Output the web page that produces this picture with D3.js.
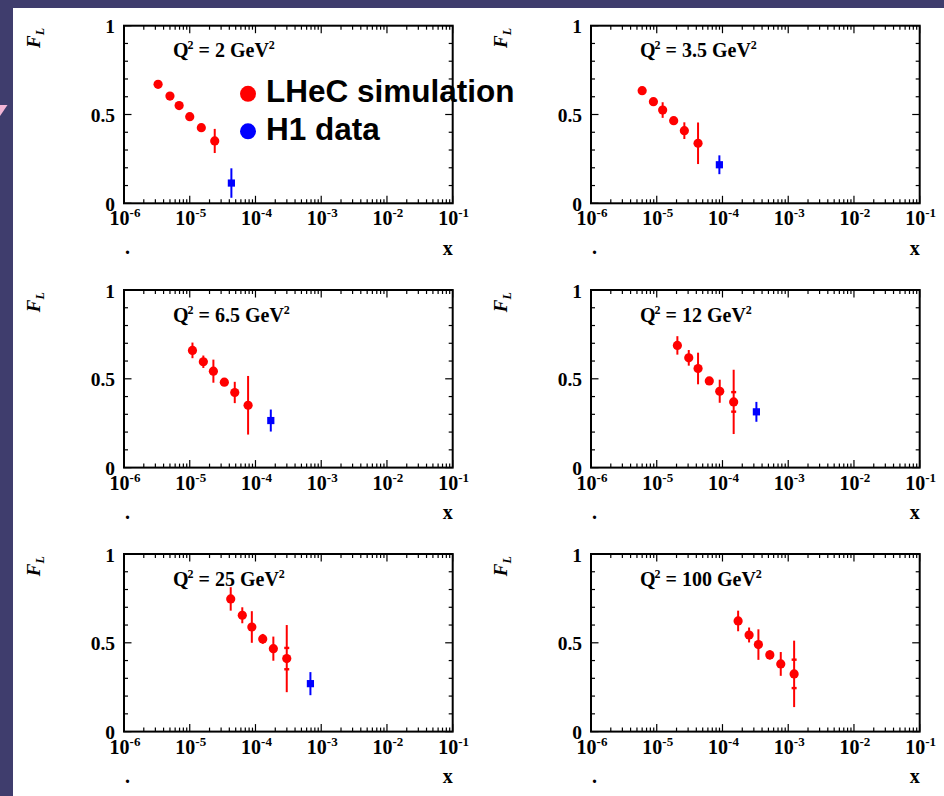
<!DOCTYPE html>
<html>
<head>
<meta charset="utf-8">
<script src="https://cdn.jsdelivr.net/npm/d3@7"></script>
<style>
  html, body { margin: 0; padding: 0; background: #3f3d6d; }
  svg { display: block; }
</style>
</head>
<body>
<svg id="chart" width="944" height="796"></svg>
<script>
// F_L(x) at fixed Q^2: simulated LHeC measurement vs. H1 data
const q2Values = ["2", "3.5", "6.5", "12", "25", "100"];

const simX = [
  [3.3e-6, 5.0e-6, 6.9e-6, 1.0e-5, 1.5e-5, 2.4e-5],
  [6.0e-6, 8.9e-6, 1.23e-5, 1.81e-5, 2.63e-5, 4.25e-5],
  [1.1e-5, 1.61e-5, 2.29e-5, 3.36e-5, 4.84e-5, 7.72e-5],
  [2.06e-5, 3.07e-5, 4.25e-5, 6.3e-5, 9.08e-5, 1.48e-4],
  [4.2e-5, 6.3e-5, 8.8e-5, 1.29e-4, 1.87e-4, 2.99e-4],
  [1.73e-4, 2.54e-4, 3.52e-4, 5.25e-4, 7.7e-4, 1.23e-3]
];
const simFL = [
  [0.670, 0.604, 0.550, 0.488, 0.426, 0.351],
  [0.634, 0.572, 0.525, 0.465, 0.409, 0.338],
  [0.660, 0.596, 0.543, 0.481, 0.423, 0.351],
  [0.688, 0.618, 0.558, 0.488, 0.430, 0.370],
  [0.747, 0.655, 0.589, 0.522, 0.467, 0.411],
  [0.623, 0.544, 0.490, 0.432, 0.381, 0.325]
];
// total uncertainty
const simErr = [
  [0.010, 0.010, 0.010, 0.012, 0.015, 0.068],
  [0.012, 0.015, 0.044, 0.015, 0.047, 0.117],
  [0.044, 0.035, 0.065, 0.015, 0.060, 0.165],
  [0.052, 0.044, 0.089, 0.020, 0.065, 0.181],
  [0.066, 0.045, 0.089, 0.028, 0.068, 0.189],
  [0.058, 0.042, 0.086, 0.026, 0.067, 0.187]
];
// inner (statistical) uncertainty, marked where it extends past the marker
const simStatErr = [
  [null, null, null, null, null, null],
  [null, null, null, null, null, null],
  [null, null, null, null, null, null],
  [null, null, null, null, null, 0.055],
  [null, null, null, null, null, 0.060],
  [null, null, null, null, null, 0.080]
];

const h1X   = [4.3e-5, 8.97e-5, 1.71e-4, 3.28e-4, 6.85e-4, null];
const h1FL  = [0.114, 0.217, 0.265, 0.314, 0.270, null];
const h1Err = [0.083, 0.053, 0.062, 0.056, 0.065, null];

const xTickExponents = [-6, -5, -4, -3, -2, -1];
const yTickValues = [0, 0.5, 1];
const yTickLabels = ["0", "0.5", "1"];
const legendLabels = ["LHeC simulation", "H1 data"];

const svg = d3.select("#chart");

// slide background
svg.append("rect").attr("x", 13).attr("y", 8).attr("width", 931).attr("height", 788).attr("fill", "#ffffff");
svg.append("path").attr("d", "M0,105 L7.5,105 L0,116 Z").attr("fill", "#f3b6d6");

const W = 328.7, H = 177.6;
const colLeft = [124, 591];
const rowTop = [25.7, 290, 554];
const serif = "'Liberation Serif', 'Times New Roman', serif";
const RED = "#ff0000", BLUE = "#0000ff";

const x = d3.scaleLog().domain([1e-6, 1e-1]).range([0, W]);
const y = d3.scaleLinear().domain([0, 1]).range([H, 0]);

q2Values.forEach((q2, i) => {
  const left = colLeft[i % 2], top = rowTop[Math.floor(i / 2)];
  const g = svg.append("g").attr("transform", `translate(${left},${top})`);

  // ticks: log minor/major on top & bottom, linear on left & right
  const tk = g.append("g").attr("stroke", "#000").attr("stroke-width", 1.2);
  for (let e = -6; e < -1 + 1e-9; e++) {
    for (let k = 1; k <= 9; k++) {
      const v = k * Math.pow(10, e);
      if (v > 1e-1 * 1.0001) continue;
      const len = k === 1 ? 7.5 : 4;
      const px = x(v);
      tk.append("line").attr("x1", px).attr("x2", px).attr("y1", H).attr("y2", H - len);
      tk.append("line").attr("x1", px).attr("x2", px).attr("y1", 0).attr("y2", len);
    }
  }
  d3.range(0, 11).forEach(j => {
    const v = j / 10;
    const len = (j % 5 === 0) ? 7.5 : 4;
    const py = y(v);
    tk.append("line").attr("x1", 0).attr("x2", len).attr("y1", py).attr("y2", py);
    tk.append("line").attr("x1", W).attr("x2", W - len).attr("y1", py).attr("y2", py);
  });

  // frame
  g.append("rect").attr("x", 0).attr("y", 0).attr("width", W).attr("height", H)
    .attr("fill", "none").attr("stroke", "#000").attr("stroke-width", 2);

  // y tick labels
  yTickValues.forEach((v, j) => {
    g.append("text").attr("x", -9).attr("y", y(v) + 7.5)
      .attr("text-anchor", "end").attr("font-family", serif).attr("font-weight", "bold")
      .attr("font-size", 19.5).text(yTickLabels[j]);
  });

  // x tick labels 10^n
  xTickExponents.forEach(e => {
    const t = g.append("text").attr("x", x(Math.pow(10, e)) + 1).attr("y", H + 22)
      .attr("text-anchor", "middle").attr("font-family", serif).attr("font-weight", "bold")
      .attr("font-size", 20);
    t.append("tspan").text("10");
    t.append("tspan").attr("font-size", 13).attr("dy", -8).text(String(e));
  });

  // axis titles
  const fl = g.append("text").attr("transform", `translate(-84,22.3) rotate(-90)`)
    .attr("font-family", serif).attr("font-weight", "bold").attr("font-style", "italic")
    .attr("font-size", 19);
  fl.append("tspan").text("F");
  fl.append("tspan").attr("font-size", 12).attr("dy", 4).text("L");

  g.append("text").attr("x", W).attr("y", H + 51.5).attr("text-anchor", "end")
    .attr("font-family", serif).attr("font-weight", "bold").attr("font-size", 20).text("x");
  g.append("text").attr("x", 1).attr("y", H + 51).attr("font-family", serif)
    .attr("font-weight", "bold").attr("font-size", 20).text(".");

  // Q^2 label
  const ql = g.append("text").attr("x", 49).attr("y", 31.5).attr("font-family", serif)
    .attr("font-weight", "bold").attr("font-size", 20);
  ql.append("tspan").text("Q");
  ql.append("tspan").attr("font-size", 12).attr("dy", -8).attr("dx", -1).text("2");
  ql.append("tspan").attr("dy", 8).text(` = ${q2} GeV`);
  ql.append("tspan").attr("font-size", 12).attr("dy", -8).text("2");

  // simulated points
  const sim = simX[i].map((xv, j) => ({ x: xv, f: simFL[i][j], e: simErr[i][j], s: simStatErr[i][j] }));
  const sg = g.append("g");
  sg.selectAll("line.err").data(sim).join("line").attr("class", "err")
    .attr("x1", d => x(d.x)).attr("x2", d => x(d.x))
    .attr("y1", d => y(d.f - d.e)).attr("y2", d => y(d.f + d.e))
    .attr("stroke", RED).attr("stroke-width", 2);
  sim.filter(d => d.s != null).forEach(d => {
    [d.f - d.s, d.f + d.s].forEach(v => {
      sg.append("rect").attr("x", x(d.x) - 2.5).attr("y", y(v) - 1.2)
        .attr("width", 5).attr("height", 2.4).attr("fill", RED);
    });
  });
  sg.selectAll("circle").data(sim).join("circle")
    .attr("cx", d => x(d.x)).attr("cy", d => y(d.f)).attr("r", 4.6).attr("fill", RED);

  // H1 point
  if (h1X[i] != null) {
    const hx = x(h1X[i]);
    g.append("line").attr("x1", hx).attr("x2", hx)
      .attr("y1", y(h1FL[i] - h1Err[i])).attr("y2", y(h1FL[i] + h1Err[i]))
      .attr("stroke", BLUE).attr("stroke-width", 2);
    g.append("rect").attr("x", hx - 3.6).attr("y", y(h1FL[i]) - 3.6)
      .attr("width", 7.2).attr("height", 7.2).attr("fill", BLUE);
  }

  // legend in first panel
  if (i === 0) {
    const lg = svg.append("g");
    [RED, BLUE].forEach((c, j) => {
      const cy = 93.8 + j * 37.5;
      lg.append("circle").attr("cx", 248).attr("cy", cy).attr("r", 8).attr("fill", c);
      lg.append("text").attr("x", 266).attr("y", cy + 8.5)
        .attr("font-family", "'Liberation Sans', Arial, sans-serif").attr("font-weight", "bold")
        .attr("font-size", 31.5).attr("fill", "#000").text(legendLabels[j]);
    });
  }
});
</script>
</body>
</html>
